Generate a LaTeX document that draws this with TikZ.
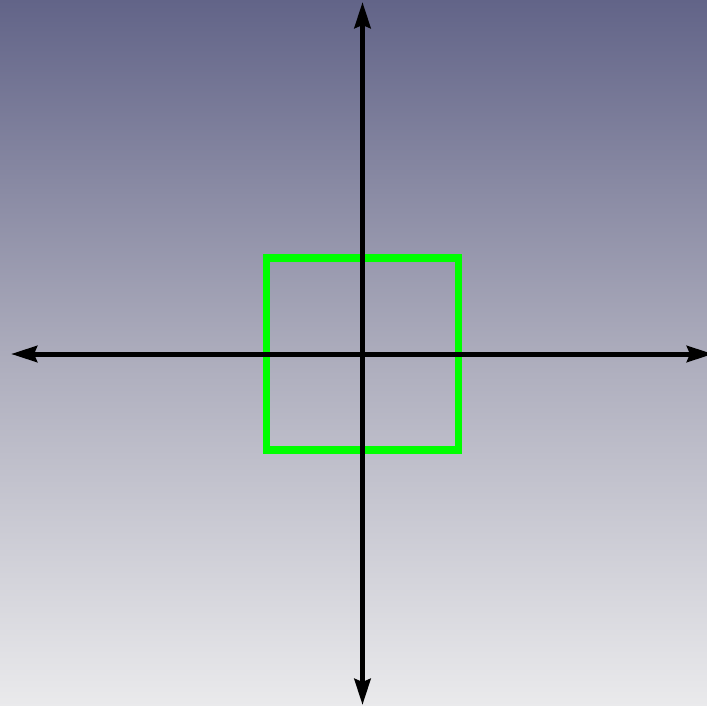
\documentclass[tikz,border=0pt]{standalone}
\usetikzlibrary{arrows.meta}
\definecolor{bgtop}{RGB}{98,100,136}
\definecolor{bgmid}{RGB}{172,172,188}
\definecolor{bgbot}{RGB}{234,234,236}
\definecolor{sqgreen}{RGB}{0,255,0}
\tikzset{
  axis/.style={line width=5pt, draw=black, {Stealth[length=26pt,width=16pt,inset=3pt]}-{Stealth[length=26pt,width=16pt,inset=3pt]}},
  sqbox/.style={draw=sqgreen, line width=7.5pt, minimum width=192pt, minimum height=192pt, inner sep=0pt, outer sep=0pt}
}
\begin{document}
\begin{tikzpicture}[x=1pt,y=-1pt]
  \useasboundingbox (0,0) rectangle (707,706);
  \clip (0,0) rectangle (707,706);
  \shade[top color=bgtop, bottom color=bgbot, middle color=bgmid] (0,0) rectangle (707,706);
  \coordinate (top) at (362.5,2);
  \coordinate (bottom) at (362.5,705);
  \coordinate (left) at (11,354);
  \coordinate (right) at (713,354);
  \node[sqbox] (sq) at (362.4,354) {};
  \draw[axis] (bottom) -- (top);
  \draw[axis] (left) -- (right);
\end{tikzpicture}
\end{document}
